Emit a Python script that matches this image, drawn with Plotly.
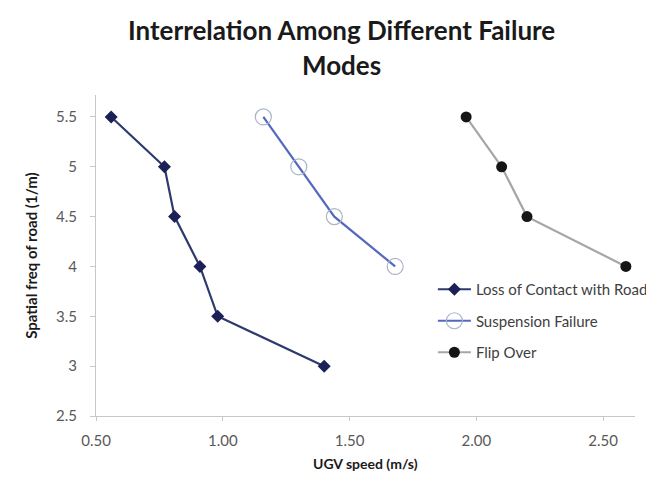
import plotly.graph_objects as go

# Data
loss_x = [0.56, 0.77, 0.81, 0.91, 0.98, 1.40]
loss_y = [5.5, 5.0, 4.5, 4.0, 3.5, 3.0]
susp_x = [1.16, 1.30, 1.44, 1.68]
susp_y = [5.5, 5.0, 4.5, 4.0]
flip_x = [1.96, 2.10, 2.20, 2.59]
flip_y = [5.5, 5.0, 4.5, 4.0]

x_ticks = [0.5, 1.0, 1.5, 2.0, 2.5]
x_ticklabels = ["0.50", "1.00", "1.50", "2.00", "2.50"]
y_ticks = [2.5, 3.0, 3.5, 4.0, 4.5, 5.0, 5.5]
y_ticklabels = ["2.5", "3", "3.5", "4", "4.5", "5", "5.5"]

title_lines = ["Interrelation Among Different Failure", "Modes"]
x_title = "UGV speed (m/s)"
y_title = "Spatial freq of road (1/m)"

FONT = "Lato, 'Open Sans', sans-serif"

fig = go.Figure()
fig.add_trace(go.Scatter(
    x=loss_x, y=loss_y, mode="lines+markers", name="Loss of Contact with Road",
    legendgroup="a",
    line=dict(color="#2e3a6e", width=2.2),
    marker=dict(symbol="diamond", size=10, color="#1b2157", line=dict(width=0)),
))
fig.add_trace(go.Scatter(
    x=susp_x, y=susp_y, mode="lines+markers", name="Suspension Failure",
    legendgroup="b",
    line=dict(color="#5468c0", width=2.2),
    marker=dict(symbol="circle-open", size=16, color="#aab4c8", line=dict(width=1.2)),
))
fig.add_trace(go.Scatter(
    x=flip_x, y=flip_y, mode="lines+markers", name="Flip Over",
    legendgroup="c",
    line=dict(color="#a6a6a6", width=2.2),
    marker=dict(symbol="circle", size=11, color="#151515", line=dict(width=0)),
))

annotations = [
    dict(text="<b>%s</b>" % title_lines[0], x=0.456, y=1.202, xref="paper", yref="paper",
         xanchor="center", yanchor="middle", showarrow=False,
         font=dict(family=FONT, size=26, color="#1a1a1a")),
    dict(text="<b>%s</b>" % title_lines[1], x=0.456, y=1.093, xref="paper", yref="paper",
         xanchor="center", yanchor="middle", showarrow=False,
         font=dict(family=FONT, size=26, color="#1a1a1a")),
    dict(text="<b>%s</b>" % x_title, x=0.5, y=-0.148, xref="paper", yref="paper",
         xanchor="center", yanchor="middle", showarrow=False,
         font=dict(family=FONT, size=14, color="#1a1a1a")),
    dict(text="<b>%s</b>" % y_title, x=-0.122, y=0.5, xref="paper", yref="paper",
         xanchor="center", yanchor="middle", showarrow=False, textangle=-90,
         font=dict(family=FONT, size=15, color="#1a1a1a")),
]

fig.update_layout(
    width=654, height=481,
    margin=dict(l=88, r=9, t=87, b=73),
    paper_bgcolor="white", plot_bgcolor="white",
    font=dict(family=FONT, color="#595959", size=15),
    showlegend=True,
    annotations=annotations,
    legend=dict(
        x=0.625, y=0.4455, xanchor="left", yanchor="top",
        bgcolor="rgba(0,0,0,0)",
        font=dict(family=FONT, size=15, color="#404040"),
        tracegroupgap=9,
        itemwidth=33,
    ),
    xaxis=dict(
        range=[0.5, 2.626],
        tickvals=x_ticks, ticktext=x_ticklabels,
        showgrid=False, zeroline=False,
        showline=True, linecolor="#c8c8c8", linewidth=1,
        ticks="outside", ticklen=4, tickcolor="#c8c8c8",
        ticklabelstandoff=7,
        tickfont=dict(size=15, color="#595959"),
    ),
    yaxis=dict(
        range=[2.5, 5.72],
        tickvals=y_ticks, ticktext=y_ticklabels,
        showgrid=False, zeroline=False,
        showline=True, linecolor="#c8c8c8", linewidth=1,
        ticks="outside", ticklen=5, tickcolor="#c8c8c8",
        ticklabelstandoff=10,
        tickfont=dict(size=15, color="#595959"),
    ),
)

fig.write_html("out.html")
